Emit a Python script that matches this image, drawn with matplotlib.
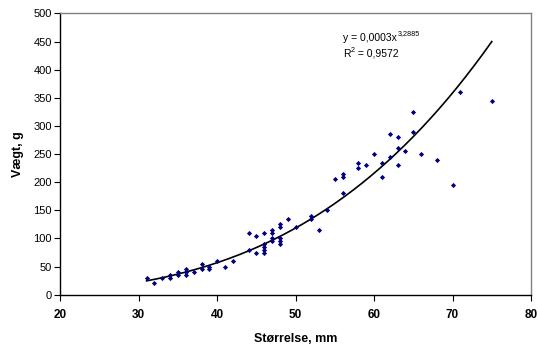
import matplotlib
matplotlib.use("Agg")
import matplotlib.pyplot as plt
import numpy as np

plt.rcParams['font.family'] = ['Liberation Sans', 'DejaVu Sans']

# Data
size_mm = [31, 32, 33, 34, 34, 35, 35, 36, 36, 36, 37, 38, 38, 39, 39, 40, 41, 42,
           44, 44, 45, 45, 46, 46, 46, 46, 46, 47, 47, 47, 47,
           48, 48, 48, 48, 48, 49, 50, 52, 52, 53, 54, 55, 56, 56, 56,
           58, 58, 59, 60, 61, 61, 62, 62, 63, 63, 63, 64, 65, 65, 66, 68, 70, 71, 75]
weight_g = [30, 20, 30, 35, 30, 40, 35, 45, 40, 35, 40, 55, 45, 50, 45, 60, 50, 60,
            110, 80, 105, 75, 110, 90, 85, 80, 75, 115, 110, 100, 95,
            125, 120, 100, 95, 90, 135, 120, 140, 135, 115, 150, 205, 215, 210, 180,
            235, 225, 230, 250, 235, 210, 285, 245, 280, 260, 230, 255, 325, 290, 250, 240, 195, 360, 345]

# Power trendline y = a * x^b
trend_a = 0.000307
trend_b = 3.2885
trend_x_range = (31, 75)
eq_base, eq_sup = 'y = 0,0003x', '3,2885'
r2_base, r2_sup, r2_rest = 'R', '2', ' = 0,9572'

x_ticks = [20, 30, 40, 50, 60, 70, 80]
y_ticks = [0, 50, 100, 150, 200, 250, 300, 350, 400, 450, 500]

fig = plt.figure(figsize=(5.38, 3.44), dpi=100)
ax = fig.add_axes([0.1121, 0.1433, 0.8749, 0.8175])

ax.scatter(size_mm, weight_g, marker='D', s=7, color='#000080', linewidths=0, zorder=3)

tx = np.linspace(trend_x_range[0], trend_x_range[1], 200)
ax.plot(tx, trend_a * tx ** trend_b, color='black', lw=1.2, zorder=2)

ax.set_xlim(20, 80)
ax.set_ylim(0, 500)
ax.set_xticks(x_ticks)
ax.set_yticks(y_ticks)
ax.set_xticklabels([str(v) for v in x_ticks], fontweight='bold', fontsize=8.5)
ax.set_yticklabels([str(v) for v in y_ticks], fontsize=8)
ax.tick_params(direction='out', length=4, width=0.8, pad=2, colors='black')
ax.tick_params(axis='x', pad=6)

for s in ['left', 'bottom']:
    ax.spines[s].set_color('black')
    ax.spines[s].set_linewidth(1.0)
for s in ['top', 'right']:
    ax.spines[s].set_color('#808080')
    ax.spines[s].set_linewidth(1.0)

ax.set_xlabel('Størrelse, mm', fontweight='bold', fontsize=9, labelpad=9)
ax.set_ylabel('Vægt, g', fontweight='bold', fontsize=9, labelpad=7)

# Trendline equation (base text + superscripts placed after measuring)
W, H = 538, 344
t1 = fig.text(343 / W, 1 - 41 / H, eq_base, fontsize=7.5, va='baseline', ha='left')
t2 = fig.text(343 / W, 1 - 57 / H, r2_base, fontsize=7.5, va='baseline', ha='left')
fig.canvas.draw()
r = fig.canvas.get_renderer()
e1 = t1.get_window_extent(r)
fig.text(e1.x1 / W + 0.5 / W, 1 - 35.5 / H, eq_sup, fontsize=5.2, va='baseline', ha='left')
e2 = t2.get_window_extent(r)
s2 = fig.text(e2.x1 / W + 0.3 / W, 1 - 51.5 / H, r2_sup, fontsize=5.2, va='baseline', ha='left')
fig.canvas.draw()
e3 = s2.get_window_extent(r)
fig.text(e3.x1 / W, 1 - 57 / H, r2_rest, fontsize=7.5, va='baseline', ha='left')

fig.savefig('out.png', dpi=100)
